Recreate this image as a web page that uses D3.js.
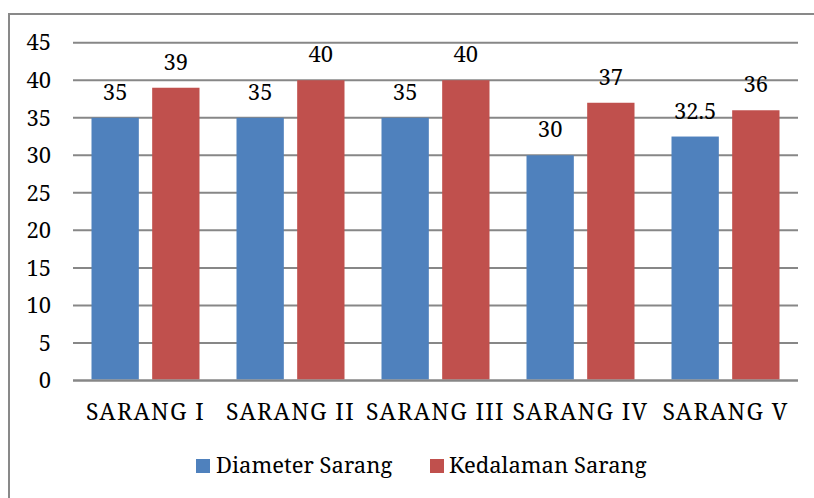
<!DOCTYPE html>
<html><head><meta charset="utf-8">
<script src="https://cdn.jsdelivr.net/npm/d3@7"></script>
<style>html,body{margin:0;padding:0;background:#fff}</style>
</head><body>
<script>
const categories = ["SARANG I","SARANG II","SARANG III","SARANG IV","SARANG V"];
const seriesNames = ["Diameter Sarang","Kedalaman Sarang"];
const diameter = [35,35,35,30,32.5];
const kedalaman = [39,40,40,37,36];
const yTicks = [0,5,10,15,20,25,30,35,40,45];
const colors = ["#4F81BD","#C0504D"];

const W=814,H=498;
const FONT="Noto Serif";
const FS=22;
const svg=d3.select("body").append("svg").attr("width",W).attr("height",H)
  .style("font-family",FONT);

// outer border
svg.append("path").attr("d",`M9,${H} L9,14 L${W},14`).attr("fill","none").attr("stroke","#898989").attr("stroke-width",2);

const x0=d3.scaleBand().domain(categories).range([73,798]).paddingInner(0).paddingOuter(0);
const x1=d3.scaleBand().domain(seriesNames).range([18.5,x0.bandwidth()-18.5]).paddingInner(0.22);
const y=d3.scaleLinear().domain([0,45]).range([380.5,42.7]);

// gridlines
svg.append("g").selectAll("line").data(yTicks).join("line")
  .attr("x1",73).attr("x2",798).attr("y1",d=>y(d)).attr("y2",d=>y(d))
  .attr("stroke","#878787").attr("stroke-width",2);

// y axis labels
const yAxis=d3.axisLeft(y).tickValues(yTicks).tickSize(0).tickPadding(0);
const ga=svg.append("g").attr("transform","translate(51,0)").call(yAxis)
  .attr("font-family",FONT).attr("font-size",FS);
ga.select(".domain").remove();
ga.selectAll("text").attr("fill","#000").attr("text-anchor","end").attr("x",0).attr("dy","0.33em");

const data=categories.map((c,i)=>({cat:c,vals:[diameter[i],kedalaman[i]]}));
const groups=svg.append("g").selectAll("g").data(data).join("g")
  .attr("transform",d=>`translate(${x0(d.cat)},0)`);
groups.selectAll("rect").data(d=>d.vals.map((v,j)=>({s:seriesNames[j],v,j}))).join("rect")
  .attr("x",d=>x1(d.s)).attr("width",x1.bandwidth())
  .attr("y",d=>y(d.v)).attr("height",d=>y(0)-y(d.v)-1)
  .attr("fill",d=>colors[d.j]);
groups.selectAll("text").data(d=>d.vals.map((v,j)=>({s:seriesNames[j],v,j}))).join("text")
  .attr("x",d=>x1(d.s)+x1.bandwidth()/2).attr("y",d=>y(d.v)-18)
  .attr("text-anchor","middle").attr("font-family",FONT).attr("font-size",FS).attr("fill","#000")
  .text(d=>d.v);

// x axis line
svg.append("line").attr("x1",73).attr("x2",798).attr("y1",y(0)).attr("y2",y(0)).attr("stroke","#878787").attr("stroke-width",2);

// x labels
const xAxis=d3.axisBottom(x0).tickSize(0).tickPadding(0);
const gx=svg.append("g").attr("transform","translate(0,420)").call(xAxis)
  .attr("font-family",FONT).attr("font-size",23);
gx.select(".domain").remove();
gx.selectAll("text").attr("fill","#000").attr("dy",0).attr("y",0).style("letter-spacing","1.4px");

// legend
const leg=[{x:196,tx:216},{x:430,tx:449}];
seriesNames.forEach((n,i)=>{
  svg.append("rect").attr("x",leg[i].x).attr("y",459).attr("width",14).attr("height",14).attr("fill",colors[i]);
  svg.append("text").attr("x",leg[i].tx).attr("y",473).attr("font-family",FONT).attr("font-size",FS).attr("fill","#000").text(n);
});
</script>
</body></html>
